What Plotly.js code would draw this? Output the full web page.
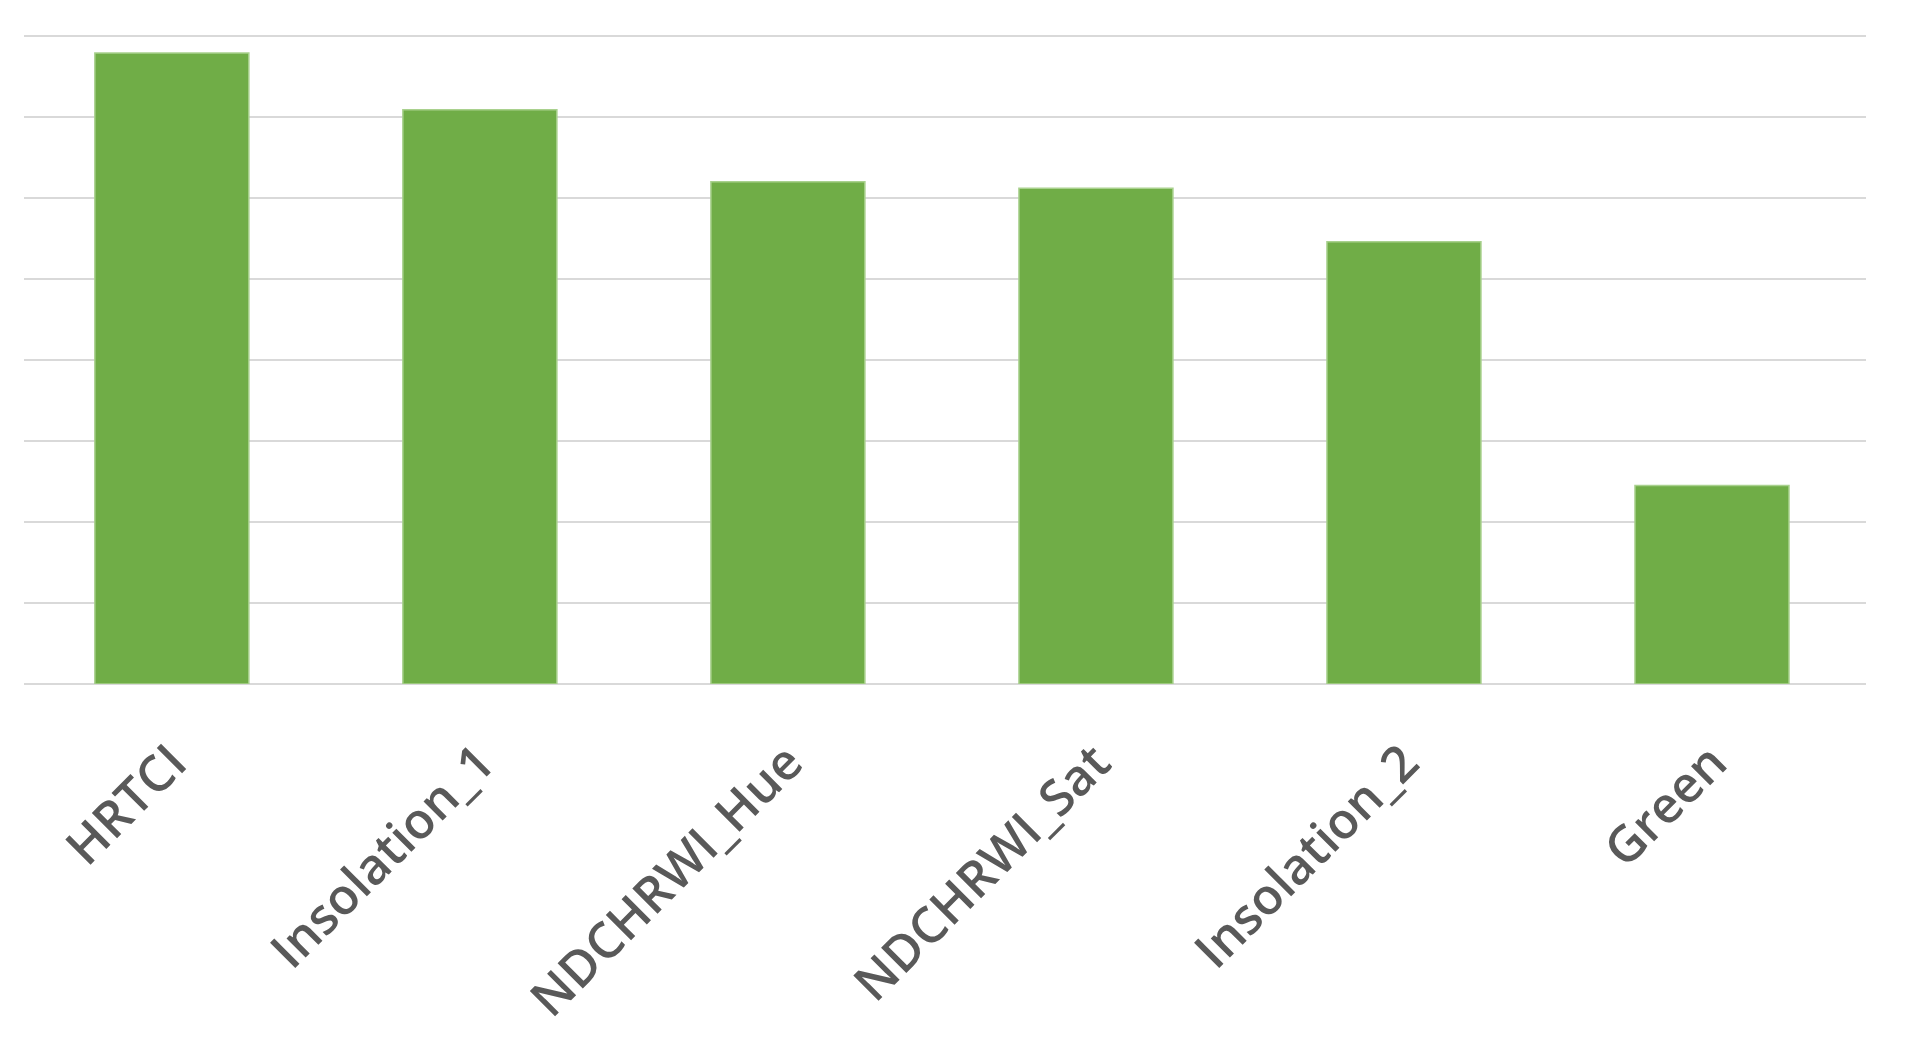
<!DOCTYPE html>
<html>
<head>
<meta charset="utf-8">
<script src="https://cdn.plot.ly/plotly-3.0.1.min.js"></script>
<style>
html,body{margin:0;padding:0;background:#fff;}
#chart{width:1906px;height:1037px;}
</style>
</head>
<body>
<div id="chart"></div>
<script>
const categories = ["HRTCI", "Insolation_1", "NDCHRWI_Hue", "NDCHRWI_Sat", "Insolation_2", "Green"];
const values = [7.79, 7.09, 6.20, 6.12, 5.46, 2.45];
const gridTicks = [0, 1, 2, 3, 4, 5, 6, 7, 8];

const trace = {
  type: "bar",
  x: categories,
  y: values,
  marker: {color: "#70ad47", line: {color: "#a9d18e", width: 1.5}},
  hoverinfo: "x+y"
};

const layout = {
  width: 1906,
  height: 1037,
  margin: {l: 24, r: 40, t: 32, b: 353},
  paper_bgcolor: "#ffffff",
  plot_bgcolor: "#ffffff",
  showlegend: false,
  bargap: 0.5,
  xaxis: {
    type: "category",
    range: [-0.48, 5.5],
    tickangle: -45,
    showgrid: false,
    showline: false,
    ticks: "",
    ticklabelstandoff: 38,
    tickfont: {family: "Open Sans, Lato, sans-serif", size: 50, color: "#595959", weight: 600}
  },
  yaxis: {
    range: [0, 8.05],
    tickvals: gridTicks,
    showticklabels: false,
    showgrid: true,
    gridcolor: "#d9d9d9",
    gridwidth: 2.5,
    zeroline: true,
    zerolinecolor: "#d9d9d9",
    zerolinewidth: 2.5,
    showline: false,
    ticks: ""
  }
};

Plotly.newPlot("chart", [trace], layout, {displayModeBar: false, staticPlot: true});
</script>
</body>
</html>
